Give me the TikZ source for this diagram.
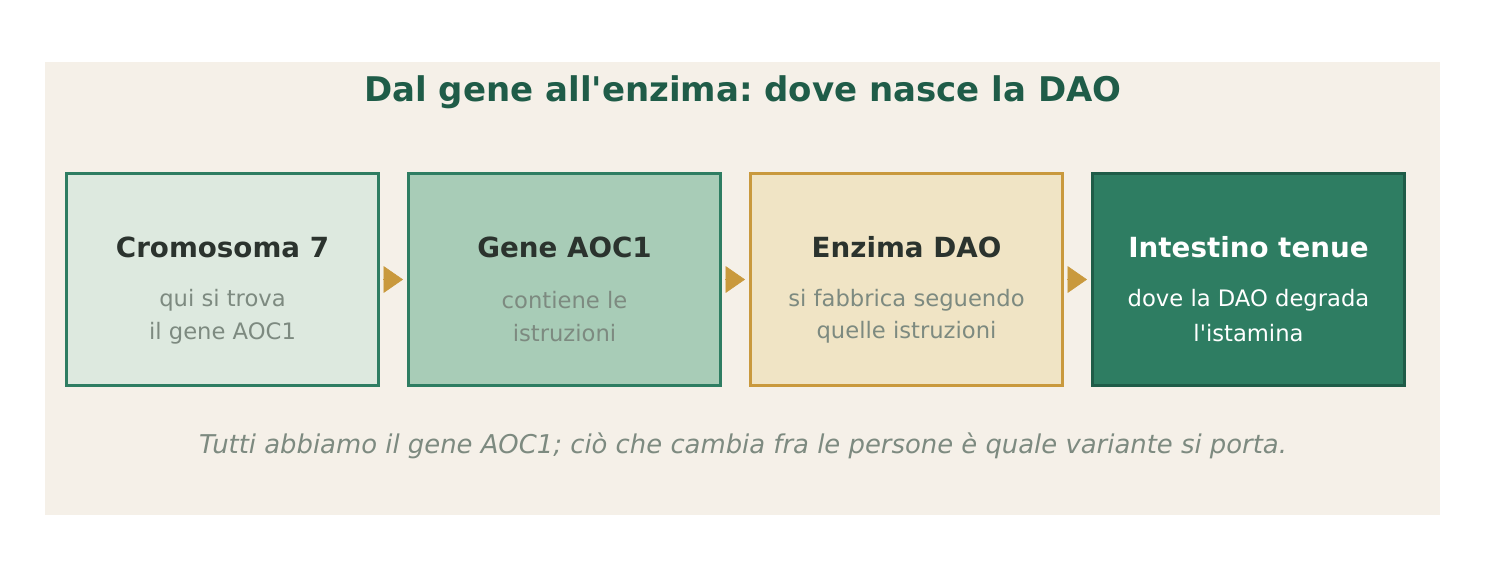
\documentclass[tikz,border=0pt]{standalone}
\usepackage{fontspec}
\setmainfont{DejaVu Sans}
\usetikzlibrary{arrows.meta}
\frenchspacing

\definecolor{panelbg}{HTML}{F5F0E8}
\definecolor{leafgreen}{HTML}{2E7D62}
\definecolor{deepgreen}{HTML}{1F5C48}
\definecolor{palegreen}{HTML}{DDE9DF}
\definecolor{midgreen}{HTML}{A8CCB7}
\definecolor{cream}{HTML}{F0E4C5}
\definecolor{ochre}{HTML}{C9993D}
\definecolor{inkdark}{HTML}{2B332E}
\definecolor{inkgrey}{HTML}{7D8A80}

\tikzset{
  stagebox/.style={draw, line width=2.25pt, minimum width=234pt, minimum height=159pt, inner sep=0pt},
  stagehead/.style={anchor=base, inner sep=0pt, font=\fontsize{20.8}{24}\selectfont\bfseries, text=inkdark},
  stagenote/.style={anchor=base, inner sep=0pt, font=\fontsize{17}{20}\selectfont, text=inkgrey},
  flowarrow/.style={ochre, line width=0.4pt, shorten <=2.25pt, shorten >=3pt, -{Triangle[length=14.5pt,width=20pt]}}
}

\begin{document}
\begin{tikzpicture}[x=0.75pt,y=-0.75pt]
\useasboundingbox (0,0) rectangle (1486,583);
\fill[panelbg] (45,62) rectangle (1440,515);

\node[anchor=base, inner sep=0pt, font=\fontsize{25.5}{30}\selectfont\bfseries, text=deepgreen] (title) at (743,101) {Dal gene all\textquotesingle enzima: dove nasce la DAO};

% the four stages
\node[stagebox, fill=palegreen, draw=leafgreen] (chrom) at (222.5,279.5) {};
\node[stagebox, fill=midgreen, draw=leafgreen] (gene) at (564.5,279.5) {};
\node[stagebox, fill=cream, draw=ochre] (enzyme) at (906.5,279.5) {};
\node[stagebox, fill=leafgreen, draw=deepgreen] (gut) at (1248.5,279.5) {};

\node[stagehead] (chromhead) at (222.5,257.5) {Cromosoma 7};
\node[stagenote] (chromnote1) at (222.5,306) {qui si trova};
\node[stagenote] (chromnote2) at (222.5,339) {il gene AOC1};

\node[stagehead] (genehead) at (564.5,257.5) {Gene AOC1};
\node[stagenote] (genenote1) at (564.5,308) {contiene le};
\node[stagenote] (genenote2) at (564.5,341.5) {istruzioni};

\node[stagehead] (enzymehead) at (906.5,257.5) {Enzima DAO};
\node[stagenote] (enzymenote1) at (906.5,306.5) {si fabbrica seguendo};
\node[stagenote] (enzymenote2) at (906.5,338.5) {quelle istruzioni};

\node[stagehead, text=white] (guthead) at (1248.5,257.5) {Intestino tenue};
\node[stagenote, text=white] (gutnote1) at (1248.5,306.5) {dove la DAO degrada};
\node[stagenote, text=white] (gutnote2) at (1248.5,341.5) {l\textquotesingle istamina};

\draw[flowarrow] (chrom.east) -- (gene.west);
\draw[flowarrow] (gene.east) -- (enzyme.west);
\draw[flowarrow] (enzyme.east) -- (gut.west);

\node[anchor=base, inner sep=0pt, font=\fontsize{19.4}{23}\selectfont\itshape, text=inkgrey] (footnote) at (743,453) {Tutti abbiamo il gene AOC1; ciò che cambia fra le persone è quale variante si porta.};
\end{tikzpicture}
\end{document}
